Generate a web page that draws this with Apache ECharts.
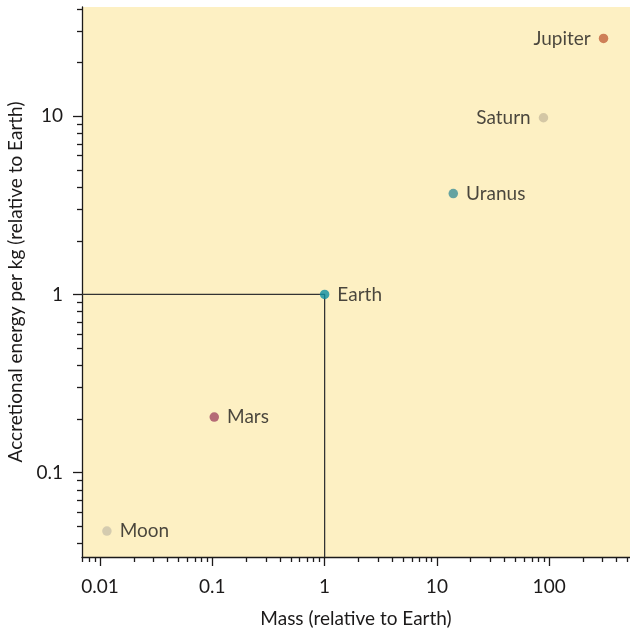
<!DOCTYPE html>
<html>
<head>
<meta charset="utf-8">
<script src="https://cdn.jsdelivr.net/npm/echarts@6/dist/echarts.min.js"></script>
<style>html,body{margin:0;padding:0;background:#fff}#c{width:630px;height:630px}</style>
</head>
<body>
<div id="c"></div>
<script>
const bodies = ['Moon', 'Mars', 'Earth', 'Uranus', 'Saturn', 'Jupiter'];
const mass = [0.0115, 0.104, 1, 14.0, 89, 305];
const energy = [0.047, 0.205, 1, 3.68, 9.8, 27.3];
const labelSide = ['right', 'right', 'right', 'right', 'left', 'left'];
const colors = ['#c9c2aa', '#a24a63', '#0d8fa3', '#3e9098', '#c9bd9e', '#c2633c'];
const xTicks = [0.01, 0.1, 1, 10, 100];
const xTickLabels = ['0.01', '0.1', '1', '10', '100'];
const yTicks = [0.1, 1, 10];
const yTickLabels = ['0.1', '1', '10'];
const xRange = [0.0069, 525];
const yRange = [0.0336, 41];
const xTitle = 'Mass (relative to Earth)';
const yTitle = 'Accretional energy per kg (relative to Earth)';

function minors(lo, hi) {
  const out = [];
  for (let e = -4; e <= 4; e++) {
    for (let m = 2; m <= 9; m++) {
      const v = +(m * Math.pow(10, e)).toPrecision(6);
      if (v > lo && v < hi) out.push(v);
    }
  }
  return out;
}

const FONT = 'Lato, "Open Sans", sans-serif';
const FS = 19;
const TXT = '#1c1a1a';
const chart = echarts.init(document.getElementById('c'), null, {renderer: 'canvas'});

function tickAxis(range, pos, vals, len) {
  return {
    type: 'log', logBase: 10, min: range[0], max: range[1], position: pos,
    splitLine: {show: false}, axisLine: {show: false}, axisLabel: {show: false},
    axisTick: {show: true, customValues: vals, length: len, lineStyle: {color: TXT, width: 1.3}}
  };
}
function fmt(ticks, labels) {
  return (v) => { const i = ticks.findIndex(t => Math.abs(t - v) / t < 1e-6); return i >= 0 ? labels[i] : ''; };
}

chart.setOption({
  animation: false,
  grid: {left: 82, top: 7, right: 0, bottom: 73, outerBoundsMode: 'none', containLabel: false,
    show: true, backgroundColor: '#fdf0c3', borderWidth: 0},
  xAxis: [
    {
      type: 'log', logBase: 10, min: xRange[0], max: xRange[1], position: 'bottom',
      splitLine: {show: false},
      name: xTitle, nameLocation: 'middle', nameGap: 52,
      nameTextStyle: {fontFamily: FONT, fontSize: FS, color: TXT},
      axisLine: {show: true, lineStyle: {color: TXT, width: 1.3}},
      axisTick: {show: false},
      axisLabel: {show: true, customValues: xTicks, margin: 20, fontFamily: FONT, fontSize: FS, color: TXT,
        formatter: fmt(xTicks, xTickLabels)}
    },
    tickAxis(xRange, 'bottom', xTicks, 9),
    tickAxis(xRange, 'bottom', minors(xRange[0], xRange[1]), 5)
  ],
  yAxis: [
    {
      type: 'log', logBase: 10, min: yRange[0], max: yRange[1], position: 'left',
      splitLine: {show: false},
      name: yTitle, nameLocation: 'middle', nameGap: 53, nameRotate: 90,
      nameTextStyle: {fontFamily: FONT, fontSize: FS, color: TXT},
      axisLine: {show: true, lineStyle: {color: TXT, width: 1.3}},
      axisTick: {show: false},
      axisLabel: {show: true, customValues: yTicks, margin: 19, fontFamily: FONT, fontSize: FS, color: TXT,
        formatter: fmt(yTicks, yTickLabels)}
    },
    tickAxis(yRange, 'left', yTicks, 9),
    tickAxis(yRange, 'left', minors(yRange[0], yRange[1]), 5)
  ],
  series: [
    {
      type: 'line', xAxisIndex: 0, yAxisIndex: 0, symbol: 'none', silent: true, z: 1,
      lineStyle: {color: '#333', width: 1.3},
      data: [[xRange[0], energy[2]], [mass[2], energy[2]], [mass[2], yRange[0]]]
    },
    {
      type: 'scatter', xAxisIndex: 0, yAxisIndex: 0, symbolSize: 9.5, z: 3,
      data: bodies.map((b, i) => ({
        name: b, value: [mass[i], energy[i]],
        itemStyle: {color: colors[i]},
        label: {show: true, position: labelSide[i], distance: 8, formatter: b,
          fontFamily: FONT, fontSize: FS, color: TXT}
      }))
    }
  ]
});
</script>
</body>
</html>
